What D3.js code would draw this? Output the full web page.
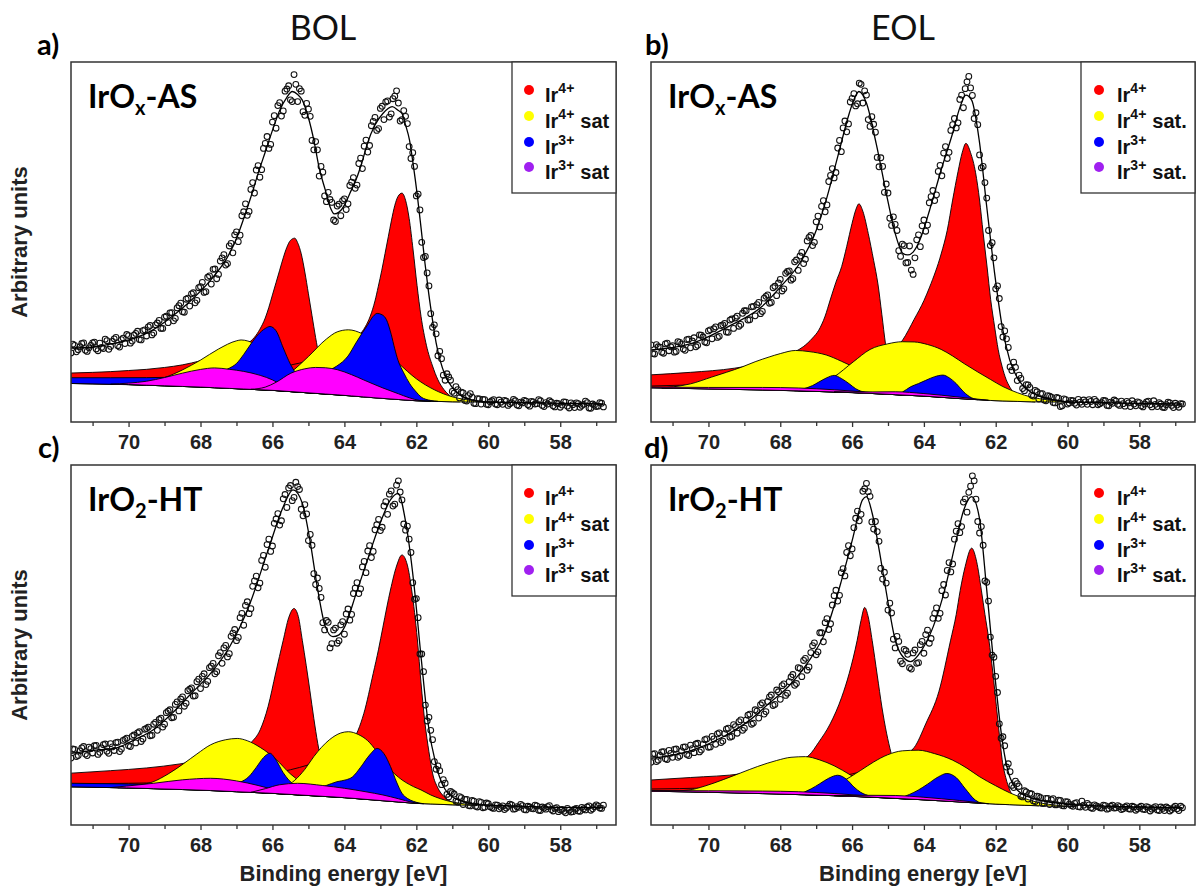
<!DOCTYPE html>
<html>
<head>
<meta charset="utf-8">
<script src="https://cdn.jsdelivr.net/npm/d3@7"></script>
<style>
  body { margin: 0; background: #fff; }
  svg { display: block; }
</style>
</head>
<body>
<svg id="chart" width="1197" height="888"></svg>
<script>
// ---- Ir 4f XPS spectra: BOL / EOL, IrOx-AS / IrO2-HT ----

// measured spectra: two interleaved point sets, each with one point every energyStep (eV, decreasing)
const energyStart = 71.6, energyStartMid = 71.55, energyStep = 0.1;
const energyDomain = [71.6, 56.45];
const tickMajor = [70, 68, 66, 64, 62, 60, 58];
const tickMinor = [71, 69, 67, 65, 63, 61, 59, 57];
const columnTitles = ["BOL", "EOL"];
const panelLetters = ["a)", "b)", "c)", "d)"];
const xTitle = "Binding energy [eV]";
const yTitle = "Arbitrary units";
const legendNames = [["Ir", "4+", ""], ["Ir", "4+", "sat"], ["Ir", "3+", ""], ["Ir", "3+", "sat"]];

// ---------- a) BOL, IrOx-AS ----------
const dataA = [19.2,21.3,20.1,21.8,19.9,20.6,22.0,
  20.3,21.9,20.4,22.6,21.0,23.1,21.2,22.9,21.8,24.0,
  22.5,24.6,22.9,25.4,23.9,26.8,24.7,27.5,26.0,29.1,
  27.6,30.4,28.8,32.3,30.6,34.1,32.2,35.9,33.8,37.6,
  36.0,40.2,38.3,42.5,41.0,45.6,43.6,48.9,47.0,52.8,
  51.9,58.4,57.4,64.6,63.6,71.2,70.1,77.4,76.0,83.3,
  81.6,88.7,86.4,92.5,89.5,96.5,89.0,91.9,85.2,86.9,
  78.2,77.9,68.3,69.4,61.2,61.8,56.1,60.0,57.3,62.0,
  60.6,66.6,64.9,71.8,70.4,78.3,76.8,83.5,81.0,87.1,
  84.0,89.2,85.6,90.5,88.6,84.0,84.9,76.5,74.8,62.8,
  58.9,45.7,41.4,30.1,27.0,18.4,17.6,11.6,12.5,8.5,
  9.8,6.7,8.1,5.8,7.9,5.2,6.5,5.0,6.2,4.8,
  5.9,5.0,6.1,4.9,5.8,5.1,6.3,4.7,5.5,6.0,
  4.8,5.7,5.0,6.2,4.6,5.4,5.9,4.5,5.2,4.1,
  5.6,4.4,5.3,4.0,5.1,4.6,5.8,3.9,5.0,4.3,
  5.4,4.2];
const dataAMid = [21.6,19.5,20.9,22.0,19.6,21.3,
  22.2,19.8,20.7,23.0,20.2,22.4,23.5,20.8,23.3,24.3,
  21.9,24.1,25.2,22.8,25.6,26.4,24.2,27.0,28.2,26.0,
  29.4,30.3,28.1,31.7,33.0,30.5,34.4,35.6,33.1,37.3,
  38.8,36.2,40.6,42.4,39.8,44.7,46.5,44.0,49.6,52.0,
  50.1,57.3,60.6,58.5,66.5,70.0,68.0,76.0,79.3,77.1,
  85.1,87.9,85.0,91.9,93.4,89.0,93.8,92.6,86.2,88.5,
  84.9,75.6,75.6,71.0,62.8,63.8,61.0,55.7,60.5,61.5,
  59.0,65.7,67.9,65.8,73.3,76.6,75.0,82.3,84.6,81.5,
  87.7,88.9,84.7,89.8,92.0,83.6,86.5,82.9,73.2,71.0,
  63.3,49.9,46.0,37.8,26.3,24.5,19.6,13.0,13.4,11.6,
  8.0,9.0,8.3,6.0,7.3,6.9,5.1,6.4,6.3,4.9,
  5.6,6.2,4.8,5.5,6.0,4.6,5.4,5.9,4.5,5.3,
  5.8,4.4,5.6,5.1,5.9,4.3,5.0,5.5,4.2,5.1,
  4.7,5.5,3.9,4.8,5.3,4.1,4.9,5.4,3.8,4.7,
  4.4,5.2];
const envA = [[71.6,20.5],[70.91,20.9],[70.38,21.9],[69.85,23.2],[69.32,25.6],[68.79,29.3],[68.25,33.9],[67.72,39.4],[67.19,46.9],[67.0,51],[66.8,56.5],[66.6,62.5],[66.4,69],[66.2,75],[66.0,81],[65.8,86.5],[65.6,90.2],[65.45,91.8],[65.3,91],[65.17,89.4],[65.0,84.5],[64.85,78.3],[64.7,70.5],[64.53,64.4],[64.4,59.8],[64.28,57.8],[64.15,58.3],[63.99,60.4],[63.85,63.5],[63.68,67.2],[63.5,72.5],[63.36,77.4],[63.15,82.5],[62.93,85.7],[62.67,87.6],[62.5,86.5],[62.4,85.7],[62.3,82.5],[62.19,78.3],[62.08,71],[61.98,63.5],[61.87,54],[61.76,44.1],[61.66,36],[61.55,28.3],[61.45,22],[61.34,17.2],[61.2,13],[61.02,9.8],[60.8,7.6],[60.6,6.6],[60.3,5.8],[60.0,5.5],[59,5.4],[58,5.2],[56.8,5.0]];
const bgA = [[71.6,10.7],[70,10.4],[68,9.7],[66,8.8],[64,7.4],[63,6.6],[62,5.9],[61,5.6],[60,5.5],[58,5.2],[56.5,5.0]];
const ir4A1 = [[71.6,2.9],[71.0,3.2],[70.5,3.5],[70.0,3.9],[69.5,4.4],[69.0,5.1],[68.5,6.0],[68.0,7.3],[67.5,8.8],[67.0,10.8],[66.7,12.6],[66.5,14.5],[66.35,16.8],[66.2,20.0],[66.1,23.0],[66.0,26.5],[65.9,30.0],[65.8,33.5],[65.7,37.0],[65.6,40.0],[65.5,42.0],[65.38,42.7],[65.3,41.5],[65.2,38.5],[65.1,33.5],[65.0,27.5],[64.9,21.5],[64.8,15.5],[64.7,10.2],[64.6,6.0],[64.5,3.2],[64.4,1.6],[64.2,0.4],[64.0,0]];
const ir4A2 = [[71.6,0.9],[70.0,1.4],[69.0,2.1],[68.0,3.3],[67.06,4.7],[66.6,5.2],[66.15,5.9],[65.7,6.9],[65.24,8.1],[64.78,9.8],[64.33,11.8],[63.87,14.5],[63.6,16.9],[63.42,19.5],[63.28,22.6],[63.15,26.9],[63.06,30.9],[62.96,35.6],[62.87,40.3],[62.78,45.0],[62.69,49.7],[62.6,53.8],[62.51,56.4],[62.4,57.4],[62.3,55.5],[62.2,50.5],[62.09,41.8],[61.98,32],[61.87,23.5],[61.72,15.5],[61.55,9.8],[61.4,6.0],[61.23,3.3],[61.0,1.2],[60.8,0]];
const ir4satA1 = [[70.5,0.1],[70.0,0.3],[69.5,1.0],[69.0,2.3],[68.5,4.6],[68.0,7.5],[67.5,10.8],[67.0,13.3],[66.87,13.6],[66.5,12.8],[66.0,9.9],[65.5,6.4],[65.0,3.3],[64.5,1.3],[64.0,0.4],[63.5,0]];
const ir4satA2 = [[67.0,0.2],[66.5,0.7],[66.0,2.1],[65.5,5.3],[65.0,10.1],[64.5,15.3],[64.2,17.5],[63.89,18.3],[63.5,17.5],[63.0,14.3],[62.5,10.1],[62.0,6.1],[61.5,3.2],[61.0,1.4],[60.5,0.5],[60.0,0.1],[59.8,0]];
const ir3A1 = [[71.6,1.6],[70.5,1.8],[69.5,2.1],[68.5,2.7],[68.0,3.3],[67.5,4.3],[67.2,5.6],[67.0,7.0],[66.8,9.6],[66.6,12.6],[66.4,15.3],[66.2,17.1],[66.07,17.7],[65.9,16.6],[65.7,12.0],[65.5,7.6],[65.38,5.6],[65.2,3.2],[65.0,1.6],[64.7,0.5],[64.4,0]];
const ir3A2 = [[66.0,0],[65.5,2.5],[65.0,4.4],[64.6,6.0],[64.21,8.0],[63.9,11.0],[63.68,14.8],[63.5,17.8],[63.36,20.0],[63.2,22.6],[63.09,23.5],[62.95,23.2],[62.83,21.9],[62.7,18.0],[62.6,14.0],[62.51,10.9],[62.35,7.5],[62.19,4.7],[62.0,2.4],[61.87,1.1],[61.6,0.2],[61.4,0]];
const ir3satA1 = [[70.5,0],[70.0,0.4],[69.5,1.1],[69.0,2.3],[68.5,3.7],[68.0,4.9],[67.61,5.5],[67.2,5.3],[66.8,4.9],[66.34,4.0],[66.0,2.9],[65.7,1.5],[65.4,0.6],[65.0,0.1],[64.8,0]];
const ir3satA2 = [[66.6,0],[66.2,0.8],[65.9,2.3],[65.49,5.1],[65.1,6.6],[64.8,7.2],[64.53,7.3],[64.2,7.0],[63.8,5.9],[63.46,4.7],[63.2,3.8],[62.93,2.9],[62.5,1.6],[62.2,0.7],[61.9,0.1],[61.6,0]];

// ---------- b) EOL, IrOx-AS ----------
const dataB = [21.4,18.9,20.9,19.4,21.7,19.8,21.2,
  19.6,22.1,20.3,22.9,20.6,23.4,21.3,24.1,22.2,25.3,
  23.1,26.4,23.8,27.0,25.0,28.3,26.0,29.4,27.1,30.9,
  28.3,32.0,29.5,33.2,30.7,34.9,33.0,37.3,35.1,39.6,
  37.0,41.8,39.4,44.5,42.1,47.1,45.2,51.3,49.0,55.6,
  54.2,61.5,60.3,68.5,67.8,76.1,75.1,83.6,82.8,89.9,
  87.8,94.1,88.6,90.8,82.1,82.7,73.5,73.4,63.8,63.6,
  54.6,54.9,47.6,49.4,44.2,48.9,41.0,50.6,48.7,56.1,
  54.7,62.6,61.5,69.6,68.4,76.5,74.9,82.6,81.7,89.6,
  87.3,94.5,92.8,84.3,82.6,70.6,66.5,53.2,49.8,37.0,
  34.3,23.6,23.1,15.3,16.6,11.5,12.1,8.7,10.3,7.4,
  8.8,6.4,7.9,5.9,7.2,5.4,6.8,4.3,6.4,5.0,
  6.0,5.2,6.3,4.9,5.6,6.2,4.8,5.7,5.1,6.0,
  4.6,5.5,6.1,4.9,5.8,4.4,5.3,5.9,4.5,5.4,
  4.2,5.6,4.8,5.9,4.3,5.0,4.0,5.5,4.6,5.2,
  4.1,5.0];
const dataBMid = [19.0,21.5,20.8,19.1,21.9,20.9,
  19.4,22.3,21.6,19.9,23.0,22.5,20.9,24.2,23.6,22.0,
  25.6,25.9,23.5,26.8,27.4,24.9,28.6,28.9,26.6,30.2,
  30.9,28.4,32.1,32.6,30.1,34.4,35.3,33.2,37.7,38.6,
  36.4,41.3,42.0,39.8,45.0,46.1,44.0,50.3,51.8,49.9,
  57.2,59.9,58.4,66.8,70.4,69.3,78.2,81.7,80.6,88.9,
  91.2,88.4,93.8,92.0,84.0,84.8,80.5,70.9,71.0,66.1,
  56.6,57.0,53.2,46.0,49.0,44.3,42.2,45.6,52.0,54.5,
  53.0,60.9,64.3,63.1,71.3,74.7,73.2,81.0,84.3,83.1,
  90.8,92.6,96.0,90.7,85.9,74.2,71.0,62.2,49.0,45.6,
  37.8,26.5,25.3,20.7,14.3,15.2,13.0,9.3,10.4,9.6,
  7.2,8.4,7.9,6.1,7.3,6.9,5.3,6.6,4.5,6.2,
  5.3,5.9,4.7,5.5,6.1,4.9,5.7,6.3,4.8,5.4,
  5.9,4.5,5.2,5.8,4.6,5.1,5.7,4.3,5.0,5.6,
  4.5,5.0,5.8,4.2,4.9,5.4,4.1,4.8,5.3,4.0,
  4.7,5.1];
const envB = [[71.6,20.0],[70.44,21.9],[69.37,26.9],[68.52,32.0],[67.99,37.6],[67.46,44.1],[67.03,52.4],[66.72,61.7],[66.4,73.7],[66.08,85.7],[65.95,89.5],[65.81,91.8],[65.6,88.6],[65.33,77.4],[65.01,61.7],[64.8,52.4],[64.59,46.9],[64.45,46.4],[64.3,47.2],[64.11,50.6],[63.84,58.9],[63.52,70.0],[63.2,80.2],[62.99,87.6],[62.83,90.8],[62.67,89.4],[62.46,78.3],[62.25,59.8],[62.03,41.3],[61.82,26.5],[61.61,17.2],[61.29,10.7],[60.86,7.5],[60.33,6.1],[60,5.6],[59,5.4],[58,5.2],[56.8,5.0]];
const bgB = [[71.6,9.5],[70,9.2],[68,8.8],[66,8.2],[64,7.2],[63,6.5],[62,5.9],[61,5.6],[60,5.5],[58,5.2],[56.5,5.0]];
const ir4B1 = [[71.6,3.6],[70.5,4.5],[69.27,5.9],[68.5,7.5],[68.0,9.0],[67.6,10.8],[67.36,12.3],[67.1,14.8],[66.93,17.0],[66.75,21.0],[66.61,25.5],[66.45,30.5],[66.29,34.9],[66.15,40.5],[66.0,47.0],[65.9,50.7],[65.81,52.5],[65.7,50.5],[65.55,44.4],[65.4,37.0],[65.28,30.5],[65.17,22.0],[65.07,14.0],[64.95,7.5],[64.8,3.0],[64.6,0.8],[64.4,0]];
const ir4B2 = [[71.6,0.5],[70.5,1.0],[69.5,1.6],[68.5,2.4],[67.5,3.4],[66.5,5.0],[66.0,6.0],[65.5,8.0],[65.0,11.0],[64.59,15.3],[64.27,21.2],[64.0,26.5],[63.84,30.4],[63.52,39.8],[63.35,46.5],[63.2,55.0],[63.05,63.0],[62.93,68.5],[62.83,71.0],[62.7,68.5],[62.56,63.0],[62.45,55.5],[62.35,46.4],[62.24,37.0],[62.14,28.0],[62.03,20.5],[61.93,14.2],[61.82,9.5],[61.71,6.0],[61.6,3.8],[61.5,2.3],[61.3,0.8],[61.1,0.2],[60.9,0]];
const ir4satB1 = [[71.3,0],[70.97,0.4],[70.5,1.3],[69.91,3.3],[69.5,4.7],[69.06,6.3],[68.7,7.8],[68.31,9.2],[68.0,10.2],[67.57,11.2],[67.2,11.0],[66.72,10.2],[66.3,8.6],[65.87,6.7],[65.4,4.5],[65.01,2.8],[64.5,1.2],[64.0,0.4],[63.5,0]];
const ir4satB2 = [[67.5,0.3],[67.0,1.5],[66.5,4.2],[65.97,8.5],[65.5,12.2],[65.01,14.0],[64.6,14.8],[64.27,14.9],[63.9,14.4],[63.52,13.3],[63.2,11.7],[62.88,9.8],[62.5,7.7],[62.14,5.8],[61.8,4.0],[61.39,2.4],[61.0,1.3],[60.55,0.6],[60.2,0.2],[59.9,0]];
const ir3B1 = [[67.6,0],[67.36,0.6],[67.1,1.6],[66.93,2.6],[66.7,3.9],[66.5,4.6],[66.3,3.8],[66.08,2.4],[65.9,1.1],[65.76,0.5],[65.5,0]];
const ir3B2 = [[64.8,0],[64.6,0.8],[64.37,2.4],[64.15,3.4],[63.95,4.4],[63.7,5.6],[63.47,6.2],[63.3,5.6],[63.1,4.1],[62.9,2.0],[62.67,0.4],[62.5,0]];
const ir3satB1 = [[71.6,0.2],[70.0,0.4],[68.5,0.7],[67.5,0.8],[66.5,0.6],[65.5,0.3],[64.5,0]];
const ir3satB2 = [[66.5,0],[65.5,0.4],[64.8,0.8],[64.0,0.7],[63.0,0.4],[62.2,0]];

// ---------- c) BOL, IrO2-HT ----------
const dataC = [18.6,21.0,19.3,21.4,19.7,21.6,20.0,
  22.1,20.2,22.3,20.5,22.6,20.7,23.0,21.1,23.8,22.0,
  24.6,22.8,25.9,23.9,26.8,24.8,28.0,26.3,29.7,28.0,
  31.6,29.8,33.5,31.7,35.6,33.8,37.7,35.8,39.8,37.9,
  42.0,39.9,44.1,42.0,47.0,44.9,49.9,47.6,53.3,51.2,
  57.6,55.5,62.0,60.1,67.8,65.9,73.5,71.6,79.4,77.5,
  85.0,83.3,90.6,88.2,94.3,91.0,94.0,87.7,89.0,79.0,
  77.7,66.8,65.7,56.2,56.8,49.2,54.2,50.5,55.6,53.0,
  60.0,58.5,65.8,64.3,71.7,70.1,77.6,76.0,83.4,81.8,
  88.6,86.3,92.8,89.1,95.6,90.3,81.9,79.4,67.3,62.9,
  47.5,42.6,28.9,26.3,17.6,16.4,11.2,11.6,7.8,9.0,
  6.6,7.9,5.7,7.1,5.3,6.6,5.0,6.3,4.9,5.9,
  4.8,5.6,4.5,5.3,4.7,5.8,4.4,5.1,5.7,4.3,
  5.2,4.6,5.5,4.1,5.0,4.4,5.4,3.9,4.8,4.2,
  3.8,4.6,3.6,4.4,3.9,4.9,4.2,5.3,4.5,5.6,
  4.7,5.5];
const dataCMid = [21.1,19.0,20.6,21.8,19.3,21.2,
  22.0,19.6,21.4,22.5,19.9,21.7,22.9,20.4,23.5,24.1,
  21.8,25.0,25.6,23.2,26.6,27.2,24.9,28.5,29.3,27.2,
  31.2,32.0,29.9,34.2,35.0,33.0,37.3,38.1,35.9,40.5,
  41.3,39.0,43.7,44.9,42.6,47.9,49.2,46.7,52.4,54.3,
  52.1,58.8,61.0,58.7,66.3,69.1,67.2,74.9,77.9,76.0,
  83.8,86.5,84.5,91.8,93.6,90.1,95.2,93.2,85.9,86.4,
  80.7,69.8,68.6,63.2,54.2,56.3,50.4,54.7,51.2,56.5,
  58.6,56.9,64.3,67.3,65.6,73.2,76.1,74.3,82.0,84.9,
  82.7,89.8,91.9,88.6,94.4,92.5,83.6,83.0,75.7,62.7,
  57.6,47.5,33.3,29.9,23.7,15.5,15.1,12.6,8.5,9.3,
  8.6,6.4,7.6,7.1,5.4,6.8,5.2,6.5,4.8,6.1,
  5.1,4.6,5.5,4.9,4.3,5.2,5.6,4.5,4.9,5.4,
  4.2,5.0,4.5,5.3,4.0,4.7,5.1,4.3,4.6,3.7,
  4.3,3.4,4.1,3.7,4.6,3.8,4.5,5.0,4.1,5.1,
  5.3,4.6];
const envC = [[71.6,19.9],[70.91,20.8],[70.38,21.3],[69.85,23.6],[69.32,26.4],[68.79,31],[68.25,36.6],[67.72,42.1],[67.19,49.5],[66.66,60.6],[66.12,76.4],[65.7,88.4],[65.43,93.1],[65.17,89.4],[64.96,79.2],[64.74,65.3],[64.53,55.1],[64.32,52.3],[64.15,52.8],[63.99,55.1],[63.67,64.4],[63.36,73.6],[63.04,82.9],[62.72,90.3],[62.51,92.1],[62.29,83.8],[62.08,68.1],[61.87,46.8],[61.66,27.3],[61.44,16.2],[61.12,8.8],[60.7,6.5],[60.17,5.6],[59,5.2],[58,4.9],[56.8,4.8]];
const bgC = [[71.6,10.6],[70,10.3],[68,9.7],[66,8.8],[64,7.6],[63,6.8],[62,6.0],[61,5.6],[60,5.3],[58,5.0],[56.5,4.8]];
const ir4C1 = [[71.6,3.8],[70.5,4.7],[69.5,5.7],[68.57,7.1],[68.0,8.3],[67.5,9.6],[67.0,11.3],[66.6,13.8],[66.34,17.5],[66.12,24.1],[65.91,33.5],[65.7,42.7],[65.55,49.0],[65.4,51.7],[65.28,49.5],[65.17,43.0],[65.06,36.0],[64.96,29.2],[64.85,21.5],[64.74,14.6],[64.6,8.0],[64.45,3.6],[64.3,1.2],[64.1,0]];
const ir4C2 = [[71.6,0.8],[70.0,1.3],[69.0,1.8],[68.0,2.6],[67.0,3.8],[66.0,5.5],[65.0,8.5],[64.5,10.5],[64.0,14.0],[63.62,19.0],[63.46,23.8],[63.2,35.1],[63.05,42.0],[62.93,48.2],[62.72,58.7],[62.55,65.5],[62.4,68.7],[62.25,66.0],[62.13,59.2],[62.05,53.0],[61.97,45.4],[61.87,33.5],[61.76,22.4],[61.65,14.5],[61.55,8.6],[61.4,4.5],[61.23,2.2],[61.0,0.7],[60.8,0]];
const ir4satC1 = [[70.3,0],[69.8,0.6],[69.32,1.9],[68.9,4.2],[68.47,7.2],[68.1,10.0],[67.72,12.7],[67.3,14.3],[66.98,14.8],[66.7,14.3],[66.34,12.6],[65.9,9.5],[65.49,5.6],[65.2,3.6],[64.95,2.4],[64.5,1.0],[64.0,0.3],[63.5,0]];
const ir4satC2 = [[66.3,0],[65.9,1.0],[65.38,4.0],[65.1,7.2],[64.85,10.9],[64.42,15.8],[64.1,17.9],[63.89,18.4],[63.6,17.8],[63.36,16.4],[63.1,13.5],[62.93,11.0],[62.7,8.6],[62.5,6.9],[62.08,4.6],[61.87,3.8],[61.6,2.5],[61.34,1.6],[61.0,0.8],[60.6,0.3],[60.3,0]];
const ir3C1 = [[71.6,1.0],[70.0,1.1],[68.0,1.5],[67.2,2.0],[66.9,2.7],[66.66,4.3],[66.45,7.0],[66.25,9.8],[66.07,11.1],[65.9,9.3],[65.7,5.9],[65.55,4.0],[65.38,2.6],[65.1,1.2],[64.8,0.4],[64.5,0]];
const ir3C2 = [[66.0,0.6],[65.0,1.5],[64.5,3.1],[64.21,4.3],[63.95,5.0],[63.78,5.9],[63.55,8.8],[63.3,12.4],[63.09,14.4],[62.9,13.1],[62.72,9.7],[62.55,5.5],[62.4,2.5],[62.25,1.2],[62.08,0.5],[61.8,0]];
const ir3satC1 = [[70.5,0],[70.06,0.5],[69.3,1.5],[68.5,2.7],[67.72,3.4],[67.0,3.0],[66.4,2.0],[66.12,1.4],[65.6,0.5],[65.27,0]];
const ir3satC2 = [[66.6,0],[66.2,1.2],[65.8,2.5],[65.3,3.2],[64.6,3.0],[64.0,2.6],[63.4,2.1],[62.93,1.6],[62.5,0.9],[62.1,0.2],[61.9,0]];

// ---------- d) EOL, IrO2-HT ----------
const dataD = [17.4,19.8,18.0,20.3,18.4,20.7,18.8,
  21.1,19.2,21.6,19.6,22.2,20.1,22.7,20.8,23.7,21.6,
  24.6,22.4,25.6,23.3,26.6,24.4,27.9,25.5,29.2,26.9,
  30.5,28.0,32.0,29.7,33.9,31.5,35.6,33.2,37.5,34.9,
  39.2,36.6,41.1,38.8,43.7,41.2,46.3,43.9,49.8,47.3,
  53.4,50.9,57.3,55.9,63.7,62.2,70.1,69.2,77.6,76.7,
  85.2,84.5,92.7,94.9,91.3,82.2,81.5,71.3,70.2,59.7,
  58.9,49.2,51.0,44.8,48.4,43.7,47.8,44.9,50.1,47.7,
  54.1,51.8,58.8,57.4,65.1,63.9,72.9,72.5,81.6,81.2,
  89.7,86.9,94.1,95.6,84.3,82.9,67.8,62.2,47.2,41.3,
  28.1,24.5,16.1,14.8,10.4,11.5,8.0,9.5,7.2,8.6,
  6.5,7.9,6.0,7.4,5.7,7.3,5.6,6.8,5.3,6.4,
  5.4,6.0,5.1,6.6,4.9,5.6,4.6,5.3,4.8,5.5,
  4.4,5.2,4.7,5.4,4.3,5.0,4.5,5.2,4.1,4.9,
  4.4,5.1,3.9,4.8,4.2,5.0,4.0,4.7,4.3,5.2,
  4.0,4.8];
const dataDMid = [19.7,17.6,19.3,20.4,18.2,19.9,
  21.0,18.8,20.6,21.7,19.3,21.2,22.5,20.3,22.4,23.9,
  21.7,23.9,25.3,22.9,25.4,26.9,24.6,27.3,28.7,26.3,
  29.1,30.8,28.3,31.6,33.4,30.8,34.3,36.1,33.5,37.0,
  38.7,36.0,39.8,41.8,39.3,43.5,45.7,43.0,47.9,50.6,
  48.1,53.4,56.2,54.3,61.1,65.2,63.8,71.2,75.7,74.8,
  82.6,87.2,86.3,93.4,92.6,84.2,84.3,78.8,68.3,67.2,
  61.6,51.6,52.4,45.5,48.8,47.4,43.3,48.6,45.1,51.0,
  52.9,50.5,57.4,60.3,58.8,66.8,70.7,70.3,79.4,83.7,
  82.9,90.6,92.4,97.0,90.5,81.1,77.7,67.4,52.2,46.6,
  36.8,24.1,22.0,17.0,11.0,12.2,10.7,7.8,9.2,8.8,
  6.7,8.0,7.6,6.0,7.4,7.0,5.6,6.9,5.4,6.5,
  5.8,5.2,6.2,5.0,5.5,6.0,4.8,5.6,5.1,4.7,
  5.4,4.6,5.5,4.8,5.1,4.5,5.3,4.4,5.0,4.5,
  5.2,4.3,4.9,4.4,5.1,4.0,4.6,5.0,3.9,4.8,
  4.5,5.2];
const envD = [[71.6,18.5],[70.44,20.8],[69.59,24.5],[68.84,29.2],[68.31,33.8],[67.78,38.4],[67.25,44.9],[66.72,54.2],[66.29,68.1],[65.97,80.1],[65.71,90.3],[65.6,91.2],[65.44,86.6],[65.23,75.5],[65.01,62.5],[64.8,51.4],[64.59,46.8],[64.37,45.4],[64.06,48.6],[63.74,55.1],[63.42,65.3],[63.1,79.2],[62.89,87.5],[62.67,91.2],[62.46,85.6],[62.25,65.3],[62.03,42.1],[61.82,23.6],[61.61,13.4],[61.29,8.8],[60.76,6.9],[59.8,5.6],[58,5.0],[56.8,4.8]];
const bgD = [[71.6,9.4],[70,9.1],[68,8.6],[66,8.0],[64,7.0],[63,6.4],[62,5.8],[61,5.4],[60,5.1],[58,4.8],[56.5,4.6]];
const ir4D1 = [[71.6,3.1],[70.5,4.0],[69.06,5.4],[68.3,7.0],[67.7,8.6],[67.2,11.0],[66.93,14.7],[66.61,19.9],[66.29,27.4],[66.08,34.1],[65.86,43.3],[65.75,49.0],[65.65,52.6],[65.55,50.0],[65.44,43.5],[65.3,34.0],[65.17,25.2],[65.04,18.0],[64.91,12.4],[64.75,6.5],[64.6,3.0],[64.4,1.0],[64.2,0]];
const ir4D2 = [[71.6,0.6],[70.0,1.2],[68.5,2.2],[67.5,3.3],[66.5,5.0],[65.5,7.8],[64.8,10.8],[64.27,14.4],[63.95,21.1],[63.58,30.4],[63.26,44.6],[63.1,52.0],[62.99,58.7],[62.85,65.5],[62.67,70.7],[62.53,67.0],[62.4,59.2],[62.3,52.5],[62.19,45.5],[62.08,36.5],[61.98,27.1],[61.9,19.5],[61.82,12.4],[61.72,7.5],[61.61,4.1],[61.45,2.0],[61.29,1.0],[61.0,0.2],[60.8,0]];
const ir4satD1 = [[71.2,0],[70.55,0.5],[70.1,1.7],[69.59,3.6],[69.1,5.6],[68.63,7.5],[68.1,9.3],[67.7,10.3],[67.3,10.6],[66.9,9.8],[66.5,8.3],[66.05,5.9],[65.65,3.6],[65.2,2.2],[64.59,1.0],[64.1,0.4],[63.6,0]];
const ir4satD2 = [[67.3,0],[66.8,1.3],[66.3,3.8],[65.76,7.3],[65.4,9.8],[65.01,12.0],[64.6,13.3],[64.16,13.7],[63.7,13.0],[63.2,11.5],[62.8,9.5],[62.46,7.4],[62.0,5.1],[61.61,3.3],[61.2,1.9],[60.76,0.8],[60.3,0.3],[59.8,0]];
const ir3D1 = [[67.5,0],[67.14,1.7],[66.9,3.2],[66.65,4.8],[66.4,5.7],[66.15,4.6],[65.95,2.6],[65.76,1.2],[65.5,0.3],[65.3,0]];
const ir3D2 = [[64.7,0],[64.4,1.3],[64.16,2.6],[63.9,4.4],[63.6,6.6],[63.36,7.7],[63.1,6.7],[62.85,3.8],[62.57,0.8],[62.4,0]];
const ir3satD1 = [[71.6,0.2],[70.0,0.4],[68.5,0.7],[67.5,0.8],[66.5,0.6],[65.5,0.3],[64.5,0]];
const ir3satD2 = [[66.5,0],[65.5,0.5],[64.8,0.8],[64.0,0.7],[63.0,0.4],[62.2,0]];

// ---- styling / layout ----
const fillColors = { ir4: "#ff0000", ir4sat: "#ffff00", ir3: "#0000ff", ir3sat: "#ff00ff" };
const legendDotColors = ["#ff0000", "#ffff00", "#0000ff", "#a020f0"];
const arialFont = "'Liberation Sans', Arial, Helvetica, sans-serif";
const calibriFont = "Lato, Carlito, 'Open Sans', sans-serif";
const cols = [{ x0: 71, x1: 616 }, { x0: 651, x1: 1195 }];
const rows = [{ y0: 62, y1: 422 }, { y0: 465, y1: 825 }];

const panels = [
  { key: "a", col: 0, row: 0, sample: ["IrO", "x", "-AS"], sat: "sat", data: dataA, dataMid: dataAMid, env: envA, bg: bgA,
    peaks: [[ir4A1, "ir4"], [ir4A2, "ir4"], [ir4satA1, "ir4sat"], [ir4satA2, "ir4sat"], [ir3A1, "ir3"], [ir3A2, "ir3"], [ir3satA1, "ir3sat"], [ir3satA2, "ir3sat"]] },
  { key: "b", col: 1, row: 0, sample: ["IrO", "x", "-AS"], sat: "sat.", data: dataB, dataMid: dataBMid, env: envB, bg: bgB,
    peaks: [[ir4B1, "ir4"], [ir4B2, "ir4"], [ir4satB1, "ir4sat"], [ir4satB2, "ir4sat"], [ir3B1, "ir3"], [ir3B2, "ir3"], [ir3satB1, "ir3sat"], [ir3satB2, "ir3sat"]] },
  { key: "c", col: 0, row: 1, sample: ["IrO", "2", "-HT"], sat: "sat", data: dataC, dataMid: dataCMid, env: envC, bg: bgC,
    peaks: [[ir4C1, "ir4"], [ir4C2, "ir4"], [ir4satC1, "ir4sat"], [ir4satC2, "ir4sat"], [ir3C1, "ir3"], [ir3C2, "ir3"], [ir3satC1, "ir3sat"], [ir3satC2, "ir3sat"]] },
  { key: "d", col: 1, row: 1, sample: ["IrO", "2", "-HT"], sat: "sat.", data: dataD, dataMid: dataDMid, env: envD, bg: bgD,
    peaks: [[ir4D1, "ir4"], [ir4D2, "ir4"], [ir4satD1, "ir4sat"], [ir4satD2, "ir4sat"], [ir3D1, "ir3"], [ir3D2, "ir3"], [ir3satD1, "ir3sat"], [ir3satD2, "ir3sat"]] }
];

const svg = d3.select("#chart");
const defs = svg.append("defs");

panels.forEach((p, pi) => {
  const { x0, x1 } = cols[p.col];
  const { y0, y1 } = rows[p.row];
  const g = svg.append("g");

  const x = d3.scaleLinear().domain(energyDomain).range([x0, x1]);
  const y = d3.scaleLinear().domain([0, 100]).range([y1, y1 - 360]);
  const bg = d3.scaleLinear().domain(p.bg.map(d => d[0])).range(p.bg.map(d => d[1]));

  defs.append("clipPath").attr("id", "clip-" + p.key)
    .append("rect").attr("x", x0).attr("y", y0).attr("width", x1 - x0).attr("height", y1 - y0);
  const plot = g.append("g").attr("clip-path", `url(#clip-${p.key})`);

  // fitted components, each filled down to the background
  const area = d3.area()
    .x(d => x(d[0]))
    .y0(d => y(bg(d[0])))
    .y1(d => y(bg(d[0]) + d[1]))
    .curve(d3.curveMonotoneX);
  p.peaks.forEach(([vals, kind]) => {
    plot.append("path").attr("d", area(vals))
      .attr("fill", fillColors[kind]).attr("stroke", "#000")
      .attr("stroke-width", 0.9).attr("stroke-linejoin", "round");
  });

  // measured points
  const points = p.data.map((v, i) => [energyStart - i * energyStep, v])
    .concat(p.dataMid.map((v, i) => [energyStartMid - i * energyStep, v]));
  plot.append("g").selectAll("circle").data(points).join("circle")
    .attr("cx", d => x(d[0]))
    .attr("cy", d => y(d[1]))
    .attr("r", 2.9)
    .attr("fill", "none").attr("stroke", "#111").attr("stroke-width", 1.05);

  // envelope of the fit
  const line = d3.line().x(d => x(d[0])).y(d => y(d[1])).curve(d3.curveMonotoneX);
  plot.append("path").attr("d", line(p.env))
    .attr("fill", "none").attr("stroke", "#000").attr("stroke-width", 1.3);

  // frame
  g.append("rect").attr("x", x0).attr("y", y0).attr("width", x1 - x0).attr("height", y1 - y0)
    .attr("fill", "none").attr("stroke", "#333").attr("stroke-width", 1.5);

  // bottom axis: labelled even ticks, short odd ticks
  const axMajor = g.append("g").attr("transform", `translate(0,${y1})`)
    .call(d3.axisBottom(x).tickValues(tickMajor).tickSize(5).tickFormat(d3.format("d")));
  axMajor.select(".domain").remove();
  axMajor.selectAll(".tick line").attr("stroke", "#333").attr("stroke-width", 1.3);
  axMajor.selectAll(".tick text").attr("y", 27).attr("dy", null)
    .attr("font-family", arialFont).attr("font-weight", "bold").attr("font-size", 20).attr("fill", "#222");
  const axMinor = g.append("g").attr("transform", `translate(0,${y1})`)
    .call(d3.axisBottom(x).tickValues(tickMinor).tickSize(4).tickFormat(""));
  axMinor.select(".domain").remove();
  axMinor.selectAll(".tick line").attr("stroke", "#333").attr("stroke-width", 1.3);

  // sample name
  const st = g.append("text").attr("x", x0 + 17).attr("y", y0 + 46)
    .attr("font-family", calibriFont).attr("font-weight", "bold").attr("font-size", 32).attr("fill", "#000");
  st.append("tspan").text(p.sample[0]);
  st.append("tspan").attr("dy", 7).attr("font-size", 20).text(p.sample[1]);
  st.append("tspan").attr("dy", -7).text(p.sample[2]);

  // legend
  const lw = p.col === 0 ? 104 : 114;
  const lx = x1 - lw;
  g.append("rect").attr("x", lx).attr("y", y0).attr("width", lw).attr("height", 131)
    .attr("fill", "#fff").attr("stroke", "#333").attr("stroke-width", 1.3);
  const dotDy = [28, 54, 80, 105], textDy = [40, 66, 92, 117];
  legendNames.forEach((nm, i) => {
    g.append("circle").attr("cx", lx + (p.col === 0 ? 17 : 18)).attr("cy", y0 + dotDy[i]).attr("r", 5)
      .attr("fill", legendDotColors[i]);
    const t = g.append("text").attr("x", lx + (p.col === 0 ? 33 : 36)).attr("y", y0 + textDy[i])
      .attr("font-family", arialFont).attr("font-weight", "bold").attr("font-size", 20).attr("fill", "#111");
    t.append("tspan").text(nm[0]);
    t.append("tspan").attr("dy", -9).attr("font-size", 14).text(nm[1]);
    if (nm[2]) t.append("tspan").attr("dy", 9).attr("dx", 6).text(p.sat);
  });

  // panel letter
  const letterPos = [[37, 55], [645, 55], [38, 458], [644, 458]][pi];
  svg.append("text").attr("x", letterPos[0]).attr("y", letterPos[1])
    .attr("font-family", calibriFont).attr("font-weight", "bold").attr("font-size", 29).attr("fill", "#000")
    .text(panelLetters[pi]);

  // axis titles
  if (p.col === 0) {
    svg.append("text").attr("transform", `translate(27,${(y0 + y1) / 2}) rotate(-90)`)
      .attr("text-anchor", "middle").attr("font-family", arialFont).attr("font-weight", "bold")
      .attr("font-size", 22).attr("fill", "#222").text(yTitle);
  }
  if (p.row === 1) {
    svg.append("text").attr("x", (x0 + x1) / 2).attr("y", 881).attr("text-anchor", "middle")
      .attr("font-family", arialFont).attr("font-weight", "bold").attr("font-size", 22).attr("fill", "#222")
      .text(xTitle);
  }
});

// column headings
[[323, columnTitles[0]], [903, columnTitles[1]]].forEach(([cx, txt]) => {
  svg.append("text").attr("x", cx).attr("y", 40).attr("text-anchor", "middle")
    .attr("font-family", calibriFont).attr("font-size", 34).attr("fill", "#111").text(txt);
});
</script>
</body>
</html>
